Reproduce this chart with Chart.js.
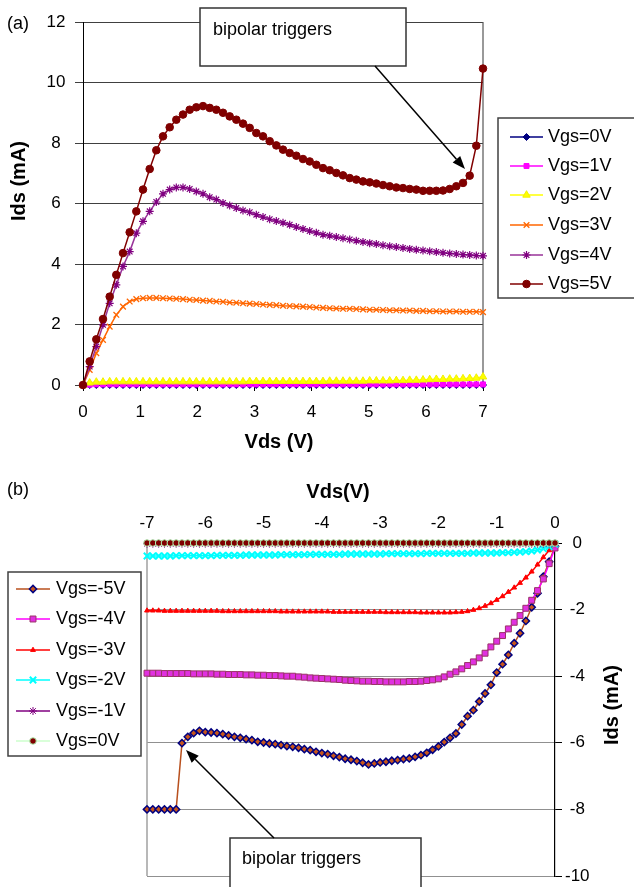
<!DOCTYPE html>
<html><head><meta charset="utf-8">
<script src="https://cdn.jsdelivr.net/npm/chart.js@4.4.0/dist/chart.umd.min.js"></script>
<style>
html,body{margin:0;padding:0;background:#fff;}
#wrap{position:relative;width:634px;height:887px;overflow:hidden;background:#fff;}
canvas{position:absolute;left:0;}
#ca{top:0;} #cb{top:470px;}
</style></head><body>
<div id="wrap"><canvas id="ca" width="634" height="470"></canvas><canvas id="cb" width="634" height="417"></canvas></div>
<script>
// ---------- Panel (a) data ----------
const vdsA = [0,0.117,0.233,0.35,0.467,0.583,0.7,0.817,0.933,1.05,
1.167,1.283,1.4,1.517,1.633,1.75,1.867,1.983,2.1,2.217,
2.333,2.45,2.567,2.683,2.8,2.917,3.033,3.15,3.267,3.383,
3.5,3.617,3.733,3.85,3.967,4.083,4.2,4.317,4.433,4.55,
4.667,4.783,4.9,5.017,5.133,5.25,5.367,5.483,5.6,5.717,
5.833,5.95,6.067,6.183,6.3,6.417,6.533,6.65,6.767,6.883,
7];
const idsVgs0A = [0,0,0,0,0,0,0,0,0,0, 0,0,0,0,0,0,0,0,0,0, 0,0,0,0,0,0,0,0,0,0, 0,0,0,0,0,0,0,0,0,0, 0,0,0,0,0,0,0,0,0,0, 0,0,0,0,0,0,0,0,0,0, 0];
const idsVgs1A = [0,0.01,0.02,0.02,0.02,0.02,0.02,0.02,0.02,0.02, 0.02,0.02,0.02,0.02,0.02,0.02,0.02,0.02,0.02,0.02, 0.02,0.02,0.02,0.02,0.02,0.02,0.02,0.02,0.02,0.02, 0.02,0.02,0.02,0.02,0.02,0.02,0.02,0.02,0.02,0.02, 0.02,0.02,0.02,0.02,0.02,0.02,0.02,0.02,0.02,0.02, 0.02,0.02,0.02,0.02,0.02,0.02,0.02,0.02,0.02,0.02, 0.02];
const idsVgs2A = [0,0.07,0.1,0.1,0.11,0.11,0.11,0.11,0.11,0.11, 0.11,0.11,0.11,0.11,0.11,0.11,0.11,0.11,0.11,0.11, 0.11,0.11,0.11,0.11,0.11,0.12,0.12,0.12,0.12,0.12, 0.12,0.12,0.12,0.12,0.12,0.12,0.12,0.13,0.13,0.13, 0.13,0.13,0.13,0.14,0.14,0.14,0.14,0.15,0.15,0.16, 0.16,0.17,0.18,0.19,0.19,0.2,0.2,0.21,0.22,0.23, 0.27];
const idsVgs3A = [0,0.5,1.05,1.49,1.93,2.32,2.59,2.76,2.84,2.87, 2.88,2.88,2.87,2.86,2.85,2.84,2.82,2.81,2.79,2.78, 2.76,2.75,2.73,2.72,2.70,2.69,2.68,2.66,2.65,2.64, 2.62,2.61,2.60,2.59,2.58,2.56,2.55,2.54,2.53,2.52, 2.52,2.51,2.50,2.49,2.49,2.48,2.47,2.47,2.46,2.46, 2.45,2.45,2.44,2.44,2.43,2.43,2.43,2.42,2.42,2.42, 2.41];
const idsVgs4A = [0,0.61,1.27,1.99,2.70,3.31,3.92,4.41,5.02,5.41, 5.74,6.05,6.32,6.46,6.53,6.53,6.48,6.40,6.32,6.21, 6.13,6.02,5.93,5.85,5.77,5.71,5.63,5.55,5.48,5.42, 5.36,5.30,5.22,5.16,5.09,5.03,4.97,4.93,4.89,4.85, 4.81,4.77,4.73,4.69,4.66,4.62,4.59,4.56,4.53,4.50, 4.47,4.45,4.42,4.40,4.37,4.35,4.33,4.31,4.30,4.28, 4.27];
const idsVgs5A = [0,0.78,1.51,2.18,2.92,3.64,4.36,5.05,5.74,6.46, 7.14,7.76,8.22,8.52,8.77,8.94,9.10,9.18,9.22,9.16, 9.10,9.00,8.88,8.77,8.64,8.50,8.33,8.22,8.06,7.92, 7.78,7.67,7.58,7.47,7.39,7.28,7.17,7.10,7.01,6.93, 6.84,6.79,6.73,6.70,6.66,6.61,6.57,6.53,6.51,6.48, 6.46,6.42,6.42,6.42,6.43,6.48,6.57,6.68,6.92,7.91, 10.46];
const seriesNamesA = ['Vgs=0V','Vgs=1V','Vgs=2V','Vgs=3V','Vgs=4V','Vgs=5V'];
const xTicksA = [0,1,2,3,4,5,6,7];
const yTicksA = [0,2,4,6,8,10,12];

// ---------- Panel (b) data ----------
const vdsB = [-7,-6.9,-6.8,-6.7,-6.6,-6.5,-6.4,-6.3,-6.2,-6.1,
-6,-5.9,-5.8,-5.7,-5.6,-5.5,-5.4,-5.3,-5.2,-5.1,
-5,-4.9,-4.8,-4.7,-4.6,-4.5,-4.4,-4.3,-4.2,-4.1,
-4,-3.9,-3.8,-3.7,-3.6,-3.5,-3.4,-3.3,-3.2,-3.1,
-3,-2.9,-2.8,-2.7,-2.6,-2.5,-2.4,-2.3,-2.2,-2.1,
-2,-1.9,-1.8,-1.7,-1.6,-1.5,-1.4,-1.3,-1.2,-1.1,
-1,-0.9,-0.8,-0.7,-0.6,-0.5,-0.4,-0.3,-0.2,-0.1,
0];
const idsVgsM5B = [-8,-8,-8,-8,-8,-8,-6.01,-5.82,-5.71,-5.64,
-5.68,-5.69,-5.71,-5.74,-5.78,-5.82,-5.85,-5.89,-5.92,-5.97,
-5.99,-6.02,-6.04,-6.07,-6.10,-6.12,-6.15,-6.19,-6.22,-6.27,
-6.31,-6.34,-6.39,-6.43,-6.48,-6.51,-6.55,-6.60,-6.65,-6.62,
-6.59,-6.57,-6.54,-6.52,-6.49,-6.47,-6.42,-6.37,-6.30,-6.21,
-6.11,-5.98,-5.85,-5.72,-5.45,-5.20,-5.02,-4.76,-4.52,-4.26,
-3.89,-3.64,-3.36,-3.01,-2.71,-2.34,-1.93,-1.51,-1.01,-0.56,
-0.10];
const idsVgsM4B = [-3.91,-3.91,-3.91,-3.92,-3.92,-3.92,-3.92,-3.92,-3.93,-3.93,
-3.93,-3.93,-3.94,-3.94,-3.95,-3.95,-3.95,-3.96,-3.96,-3.97,
-3.97,-3.98,-3.98,-3.99,-4.00,-4.00,-4.02,-4.03,-4.05,-4.06,
-4.07,-4.08,-4.09,-4.10,-4.12,-4.13,-4.14,-4.15,-4.15,-4.16,
-4.16,-4.17,-4.17,-4.17,-4.17,-4.16,-4.16,-4.15,-4.13,-4.11,
-4.08,-4.02,-3.94,-3.87,-3.78,-3.68,-3.57,-3.45,-3.31,-3.12,
-2.95,-2.78,-2.58,-2.38,-2.18,-1.96,-1.72,-1.43,-1.08,-0.62,
-0.15];
const idsVgsM3B = [-2.03,-2.03,-2.03,-2.04,-2.04,-2.04,-2.04,-2.04,-2.04,-2.04,
-2.04,-2.04,-2.04,-2.05,-2.05,-2.05,-2.05,-2.05,-2.05,-2.05,
-2.05,-2.05,-2.05,-2.06,-2.06,-2.06,-2.06,-2.06,-2.06,-2.06,
-2.06,-2.06,-2.07,-2.07,-2.07,-2.07,-2.07,-2.07,-2.07,-2.07,
-2.07,-2.08,-2.08,-2.08,-2.08,-2.08,-2.08,-2.09,-2.09,-2.09,
-2.09,-2.09,-2.09,-2.08,-2.07,-2.05,-2.01,-1.96,-1.89,-1.81,
-1.71,-1.60,-1.47,-1.34,-1.20,-1.04,-0.86,-0.65,-0.43,-0.22,
-0.05];
const idsVgsM2B = [-0.39,-0.39,-0.39,-0.39,-0.39,-0.38,-0.38,-0.38,-0.38,-0.38,
-0.38,-0.38,-0.37,-0.37,-0.37,-0.37,-0.37,-0.36,-0.36,-0.36,
-0.36,-0.36,-0.36,-0.35,-0.35,-0.35,-0.35,-0.35,-0.34,-0.34,
-0.34,-0.34,-0.34,-0.34,-0.33,-0.33,-0.33,-0.33,-0.33,-0.33,
-0.33,-0.32,-0.32,-0.32,-0.32,-0.32,-0.32,-0.32,-0.31,-0.31,
-0.31,-0.31,-0.31,-0.31,-0.31,-0.31,-0.30,-0.30,-0.30,-0.30,
-0.30,-0.29,-0.29,-0.28,-0.27,-0.26,-0.24,-0.21,-0.17,-0.11,
-0.03];
const idsVgsM1B = [-0.02,-0.02,-0.02,-0.02,-0.02,-0.02,-0.02,-0.02,-0.02,-0.02,
-0.02,-0.02,-0.02,-0.02,-0.02,-0.02,-0.02,-0.02,-0.02,-0.02,
-0.02,-0.02,-0.02,-0.02,-0.02,-0.02,-0.02,-0.02,-0.02,-0.02,
-0.02,-0.02,-0.02,-0.02,-0.02,-0.02,-0.02,-0.02,-0.02,-0.02,
-0.02,-0.02,-0.02,-0.02,-0.02,-0.02,-0.02,-0.02,-0.02,-0.02,
-0.02,-0.02,-0.02,-0.02,-0.02,-0.02,-0.02,-0.02,-0.02,-0.02,
-0.02,-0.02,-0.02,-0.02,-0.02,-0.02,-0.02,-0.02,-0.02,-0.02,
-0.01];
const idsVgs0B = [0,0,0,0,0,0,0,0,0,0, 0,0,0,0,0,0,0,0,0,0, 0,0,0,0,0,0,0,0,0,0, 0,0,0,0,0,0,0,0,0,0, 0,0,0,0,0,0,0,0,0,0, 0,0,0,0,0,0,0,0,0,0, 0,0,0,0,0,0,0,0,0,0, 0];
const seriesNamesB = ['Vgs=-5V','Vgs=-4V','Vgs=-3V','Vgs=-2V','Vgs=-1V','Vgs=0V'];
const xTicksB = [-7,-6,-5,-4,-3,-2,-1,0];
const yTicksB = [0,-2,-4,-6,-8,-10];
const annotationText = 'bipolar triggers';

// ---------- helpers ----------
const FONT = '"Liberation Sans", Arial, Helvetica, sans-serif';
Chart.defaults.font.family = FONT;
Chart.defaults.font.size = 17;
Chart.defaults.color = '#000';

function pts(xs, ys){ return xs.map((x,i)=>({x:x, y:ys[i]})); }

function mkDs(label, xs, ys, st, n, i){
  return Object.assign({
    label: label, data: pts(xs, ys), showLine: true, tension: 0, clip: false,
    order: n - i, borderWidth: 1.5
  }, st);
}

function drawArrow(ctx, x1,y1,x2,y2){
  ctx.save();
  ctx.strokeStyle='#000'; ctx.fillStyle='#000'; ctx.lineWidth=1.5;
  const a=Math.atan2(y2-y1,x2-x1), hl=13, hw=5;
  const bx=x2-hl*Math.cos(a), by=y2-hl*Math.sin(a);
  ctx.beginPath(); ctx.moveTo(x1,y1); ctx.lineTo(bx,by); ctx.stroke();
  ctx.beginPath(); ctx.moveTo(x2,y2);
  ctx.lineTo(bx+hw*Math.sin(a), by-hw*Math.cos(a));
  ctx.lineTo(bx-hw*Math.sin(a), by+hw*Math.cos(a));
  ctx.closePath(); ctx.fill();
  ctx.restore();
}

function drawBoxText(ctx, x,y,w,h, tx,ty, txt){
  ctx.save();
  ctx.fillStyle='#fff'; ctx.fillRect(x,y,w,h);
  ctx.strokeStyle='#333'; ctx.lineWidth=1.5; ctx.strokeRect(x,y,w,h);
  ctx.fillStyle='#000'; ctx.font='18px '+FONT; ctx.textAlign='left'; ctx.textBaseline='middle';
  ctx.fillText(txt, tx, ty);
  ctx.restore();
}

function drawLegend(chart, box, rowsY, lx1, lx2, tx){
  const ctx = chart.ctx;
  ctx.save();
  ctx.fillStyle='#fff'; ctx.fillRect(box.x,box.y,box.w,box.h);
  ctx.strokeStyle='#404040'; ctx.lineWidth=1.5; ctx.strokeRect(box.x,box.y,box.w,box.h);
  chart.data.datasets.forEach((ds,i)=>{
    const y = rowsY[i];
    ctx.strokeStyle = ds.borderColor; ctx.lineWidth = ds.borderWidth;
    ctx.beginPath(); ctx.moveTo(lx1,y); ctx.lineTo(lx2,y); ctx.stroke();
    ctx.fillStyle = ds.pointBackgroundColor; ctx.strokeStyle = ds.pointBorderColor; ctx.lineWidth = ds.pointBorderWidth;
    if (Chart.helpers && Chart.helpers.drawPoint) {
      Chart.helpers.drawPoint(ctx, {pointStyle: ds.pointStyle, radius: ds.pointRadius, rotation: 0, borderWidth: ds.pointBorderWidth}, (lx1+lx2)/2, y);
    }
    ctx.fillStyle='#000'; ctx.font='18px '+FONT; ctx.textAlign='left'; ctx.textBaseline='middle';
    ctx.fillText(ds.label, tx, y);
  });
  ctx.restore();
}

function drawTitle(ctx, txt, x, y, rot){
  ctx.save();
  ctx.translate(x,y); if (rot) ctx.rotate(-Math.PI/2);
  ctx.fillStyle='#000'; ctx.font='bold 20px '+FONT; ctx.textAlign='center'; ctx.textBaseline='middle';
  ctx.fillText(txt,0,0);
  ctx.restore();
}

// ---------- Chart (a) ----------
const stylesA = [
  {borderColor:'#000080', pointStyle:'rectRot', pointRadius:3.5, pointBackgroundColor:'#000080', pointBorderColor:'#000080', pointBorderWidth:1},
  {borderColor:'#FF00FF', pointStyle:'rect', pointRadius:3.5, pointBackgroundColor:'#FF00FF', pointBorderColor:'#FF00FF', pointBorderWidth:1},
  {borderColor:'#FFFF00', pointStyle:'triangle', pointRadius:4.3, pointBackgroundColor:'#FFFF00', pointBorderColor:'#F0F000', pointBorderWidth:1},
  {borderColor:'#FF6600', pointStyle:'crossRot', pointRadius:4, pointBackgroundColor:'#FF6600', pointBorderColor:'#FF6600', pointBorderWidth:1.3},
  {borderColor:'#993399', pointStyle:'star', pointRadius:4, pointBackgroundColor:'#800080', pointBorderColor:'#800080', pointBorderWidth:1.2},
  {borderColor:'#800000', pointStyle:'circle', pointRadius:3.8, pointBackgroundColor:'#800000', pointBorderColor:'#800000', pointBorderWidth:1}
];
const seriesA = [idsVgs0A, idsVgs1A, idsVgs2A, idsVgs3A, idsVgs4A, idsVgs5A];

const pluginA = {
  id:'decorA',
  beforeDatasetsDraw(chart){
    const ctx=chart.ctx, ca=chart.chartArea;
    ctx.save(); ctx.strokeStyle='#555'; ctx.lineWidth=1.2;
    ctx.beginPath(); ctx.moveTo(ca.right, ca.top); ctx.lineTo(ca.right, ca.bottom); ctx.stroke();
    ctx.restore();
  },
  afterDraw(chart){
    const ctx=chart.ctx;
    drawTitle(ctx, 'Vds (V)', 279, 442, false);
    drawTitle(ctx, 'Ids (mA)', 19, 181, true);
    ctx.save(); ctx.fillStyle='#000'; ctx.font='18px '+FONT; ctx.textAlign='left'; ctx.textBaseline='middle';
    ctx.fillText('(a)', 7, 24); ctx.restore();
    drawLegend(chart, {x:498,y:118,w:150,h:180}, [137,166,195,225,255,284], 510, 543, 548);
    drawBoxText(ctx, 200, 8, 206, 58, 213, 30, annotationText);
    drawArrow(ctx, 375, 66, 465, 169);
  }
};

new Chart(document.getElementById('ca'), {
  type:'line',
  data:{ datasets: seriesA.map((s,i)=>mkDs(seriesNamesA[i], vdsA, s, stylesA[i], 6, i)) },
  options:{
    responsive:false, animation:false, events:[],
    layout:{padding:{left:0, right:151, top:22, bottom:35}},
    plugins:{legend:{display:false}, tooltip:{enabled:false}},
    scales:{
      x:{ type:'linear', position:'bottom', min:0, max:7,
        afterBuildTicks:s=>{ s.ticks = xTicksA.map(v=>({value:v})); },
        afterFit:s=>{ s.height=50; s.paddingLeft=0; s.paddingRight=0; },
        grid:{drawOnChartArea:false, drawTicks:true, tickLength:6, color:'#000'},
        border:{display:true, color:'#000', width:1},
        ticks:{padding:11, font:{size:17}, color:'#000', maxRotation:0}
      },
      y:{ type:'linear', position:'left', min:0, max:12,
        afterBuildTicks:s=>{ s.ticks = yTicksA.map(v=>({value:v})); },
        afterFit:s=>{ s.width=83; s.paddingTop=0; s.paddingBottom=0; },
        grid:{drawOnChartArea:true, drawTicks:true, tickLength:8, color:'#404040', lineWidth:1},
        border:{display:true, color:'#000', width:1},
        ticks:{padding:9.5, crossAlign:'center', font:{size:17}, color:'#000'}
      }
    }
  },
  plugins:[pluginA]
});

// ---------- Chart (b) ----------
const stylesB = [
  {borderColor:'#B8501E', pointStyle:'rectRot', pointRadius:3.6, pointBackgroundColor:'#C8561A', pointBorderColor:'#000080', pointBorderWidth:1.5},
  {borderColor:'#FF00FF', pointStyle:'rect', pointRadius:4.2, pointBackgroundColor:'#E030E0', pointBorderColor:'#993366', pointBorderWidth:1},
  {borderColor:'#FF0000', pointStyle:'triangle', pointRadius:2.8, pointBackgroundColor:'#FF0000', pointBorderColor:'#FF0000', pointBorderWidth:1},
  {borderColor:'#00FFFF', pointStyle:'crossRot', pointRadius:4.5, pointBackgroundColor:'#00FFFF', pointBorderColor:'#00FFFF', pointBorderWidth:2},
  {borderColor:'#800080', pointStyle:'star', pointRadius:4, pointBackgroundColor:'#800080', pointBorderColor:'#800080', pointBorderWidth:1},
  {borderColor:'#CCFFCC', pointStyle:'circle', pointRadius:3.3, pointBackgroundColor:'#800000', pointBorderColor:'#B0F0B0', pointBorderWidth:1}
];
const seriesB = [idsVgsM5B, idsVgsM4B, idsVgsM3B, idsVgsM2B, idsVgsM1B, idsVgs0B];
const OY = 470;
const pluginB = {
  id:'decorB',
  beforeDatasetsDraw(chart){
    const ctx=chart.ctx, ca=chart.chartArea;
    ctx.save(); ctx.strokeStyle='#A0A0A0'; ctx.lineWidth=1.5;
    ctx.beginPath(); ctx.moveTo(ca.left, ca.top); ctx.lineTo(ca.left, ca.bottom); ctx.stroke();
    ctx.restore();
  },
  afterDraw(chart){
    const ctx=chart.ctx;
    drawTitle(ctx, 'Vds(V)', 338, 492-OY, false);
    drawTitle(ctx, 'Ids (mA)', 612, 705-OY, true);
    ctx.save(); ctx.fillStyle='#000'; ctx.font='18px '+FONT; ctx.textAlign='left'; ctx.textBaseline='middle';
    ctx.fillText('(b)', 7, 490-OY); ctx.restore();
    drawLegend(chart, {x:8,y:572-OY,w:133,h:184}, [589-OY,619-OY,650-OY,680-OY,711-OY,741-OY], 16, 50, 56);
    drawBoxText(ctx, 230, 838-OY, 191, 70, 242, 859-OY, annotationText);
    drawArrow(ctx, 274, 838-OY, 186, 750-OY);
  }
};

new Chart(document.getElementById('cb'), {
  type:'line',
  data:{ datasets: seriesB.map((s,i)=>mkDs(seriesNamesB[i], vdsB, s, stylesB[i], 6, i)) },
  options:{
    responsive:false, animation:false, events:[],
    layout:{padding:{left:147, right:29, top:33, bottom:11}},
    plugins:{legend:{display:false}, tooltip:{enabled:false}},
    scales:{
      x:{ type:'linear', position:'top', min:-7, max:0,
        afterBuildTicks:s=>{ s.ticks = xTicksB.map(v=>({value:v})); },
        afterFit:s=>{ s.height=40; s.paddingLeft=0; s.paddingRight=0; },
        grid:{drawOnChartArea:false, drawTicks:false},
        border:{display:true, color:'#999', width:1},
        ticks:{padding:9, font:{size:17}, color:'#000', maxRotation:0}
      },
      y:{ type:'linear', position:'right', min:-10, max:0,
        afterBuildTicks:s=>{ s.ticks = yTicksB.map(v=>({value:v})); },
        afterFit:s=>{ s.width=50; s.paddingTop=0; s.paddingBottom=0; },
        grid:{drawOnChartArea:true, drawTicks:true, tickLength:7, color:'#909090', tickColor:'#000', lineWidth:1},
        border:{display:true, color:'#000', width:1.2},
        ticks:{padding:3, crossAlign:'center', font:{size:17}, color:'#000'}
      }
    }
  },
  plugins:[pluginB]
});
</script>
</body></html>
